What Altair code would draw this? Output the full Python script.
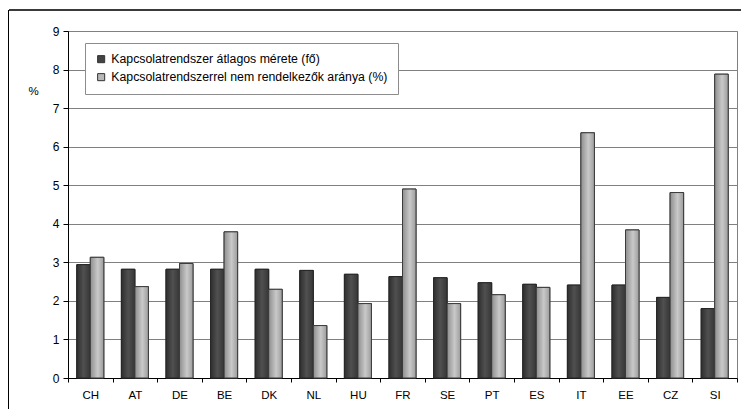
import altair as alt
import pandas as pd

countries = ["CH", "AT", "DE", "BE", "DK", "NL", "HU", "FR", "SE", "PT", "ES", "IT", "EE", "CZ", "SI"]
avg_size = [2.94, 2.82, 2.82, 2.82, 2.82, 2.79, 2.69, 2.63, 2.60, 2.47, 2.43, 2.41, 2.41, 2.09, 1.80]
no_network = [3.13, 2.37, 2.97, 3.79, 2.30, 1.36, 1.93, 4.90, 1.93, 2.16, 2.35, 6.36, 3.84, 4.81, 7.88]
y_ticks = [0, 1, 2, 3, 4, 5, 6, 7, 8, 9]

series = [
    "Kapcsolatrendszer átlagos mérete (fő)",
    "Kapcsolatrendszerrel nem rendelkezők aránya (%)",
]

rows = []
for c, a, b in zip(countries, avg_size, no_network):
    rows.append({"country": c, "series": series[0], "value": a})
    rows.append({"country": c, "series": series[1], "value": b})
df = pd.DataFrame(rows)

FONT = "Liberation Sans"
W, H = 669, 347

x_enc = alt.X(
    "country:N",
    sort=countries,
    scale=alt.Scale(paddingInner=0, paddingOuter=0),
    axis=alt.Axis(
        title=None, labelAngle=0, tickBand="extent", tickSize=4,
        tickColor="#000000", domainColor="#000000", labelPadding=7,
        labelFontSize=11.5, labelColor="#000000", labelFont=FONT, grid=False,
    ),
)
xoff_enc = alt.XOffset(
    "series:N", sort=series,
    scale=alt.Scale(domain=series, paddingOuter=0.65, paddingInner=0),
)
y_enc = alt.Y(
    "value:Q",
    scale=alt.Scale(domain=[0, 9], nice=False),
    axis=alt.Axis(
        title="%", titleAngle=0, titleX=-35, titleY=65, titleFontSize=11.5,
        titleFontWeight="normal", titleFont=FONT, titleColor="#000000",
        values=y_ticks, labelOverlap=False, tickSize=5, tickColor="#000000",
        domainColor="#000000", labelFontSize=12, labelFont=FONT,
        labelColor="#000000", labelPadding=4, gridColor="#808080",
        gridOpacity=1, gridWidth=1,
    ),
)

# base layer carries the legend
base = alt.Chart(df).mark_bar(stroke="#333333", strokeWidth=1).encode(
    x=x_enc, xOffset=xoff_enc, y=y_enc,
    color=alt.Color(
        "series:N", sort=series,
        scale=alt.Scale(domain=series, range=["#444444", "#b8b8b8"]),
        legend=alt.Legend(
            title=None, orient="none", legendX=17, legendY=12,
            symbolType="square", symbolSize=50, symbolStrokeColor="#333333",
            symbolStrokeWidth=1, labelFont=FONT, labelFontSize=12.3,
            labelColor="#000000", labelLimit=400, rowPadding=5,
            padding=10, strokeColor="#8c8c8c", fillColor="#ffffff",
            cornerRadius=0, labelOffset=4,
        ),
    ),
)

# shaded overlays giving each series its cylindrical look
dark_grad = alt.LinearGradient(
    gradient="linear", x1=0, x2=1, y1=0, y2=0,
    stops=[alt.GradientStop(color="#2e2e2e", offset=0),
           alt.GradientStop(color="#505050", offset=0.5),
           alt.GradientStop(color="#363636", offset=1)],
)
light_grad = alt.LinearGradient(
    gradient="linear", x1=0, x2=1, y1=0, y2=0,
    stops=[alt.GradientStop(color="#8e8e8e", offset=0),
           alt.GradientStop(color="#c9c9c9", offset=0.55),
           alt.GradientStop(color="#9c9c9c", offset=1)],
)
dark = alt.Chart(df).transform_filter(alt.datum.series == series[0]).mark_bar(
    color=dark_grad, stroke="#262626", strokeWidth=1
).encode(x=x_enc, xOffset=xoff_enc, y=y_enc)
light = alt.Chart(df).transform_filter(alt.datum.series == series[1]).mark_bar(
    color=light_grad, stroke="#3c3c3c", strokeWidth=1
).encode(x=x_enc, xOffset=xoff_enc, y=y_enc)

# outer frame lines
frame_top = alt.Chart(df).mark_rule(color="#3a3a3a", strokeWidth=2).encode(
    x=alt.value(-59), x2=alt.value(W + 10), y=alt.value(-21)
)
frame_left = alt.Chart(df).mark_rule(color="#000000", strokeWidth=1).encode(
    x=alt.value(-59.5), y=alt.value(-21), y2=alt.value(H + 40)
)

chart = alt.layer(base, dark, light, frame_top, frame_left).properties(
    width=W, height=H,
    autosize=alt.AutoSizeParams(type="none"),
    padding={"left": 68, "top": 31, "right": 4, "bottom": 31},
    background="#ffffff",
).configure_view(stroke="#808080", strokeWidth=1)

chart.save("out.html", embed_options={"renderer": "svg", "actions": False})
